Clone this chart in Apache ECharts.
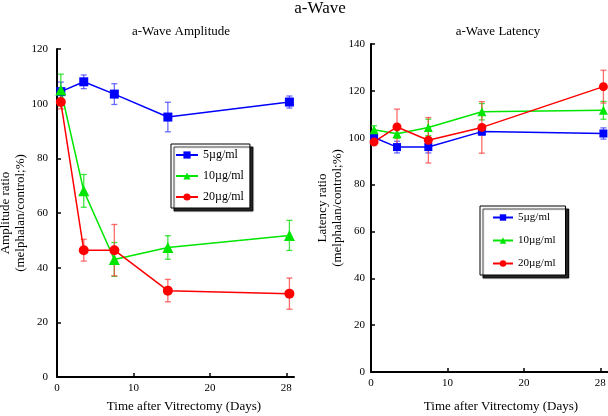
<!DOCTYPE html>
<html><head><meta charset="utf-8">
<script src="https://cdn.jsdelivr.net/npm/echarts@6/dist/echarts.min.js"></script>
<style>html,body{margin:0;padding:0;background:#fff}#c{width:608px;height:416px}</style>
</head><body><div id="c"></div>
<script>
// Days after vitrectomy (labels) and their plotted positions on the drawn axis (28 d drawn at the "28" tick)
const dayLabels = [0, 3, 7, 14, 28];
const dayPosAmp = [0.5, 3.5, 7.5, 14.5, 30.4];
const dayPosLat = [0.4, 3.4, 7.5, 14.5, 30.4];
const xTickValues = [0, 10, 20, 30];
const xTickLabels = ['0', '10', '20', '28'];
const seriesNames = ['5\u00b5g/ml', '10\u00b5g/ml', '20\u00b5g/ml'];

// a-Wave amplitude ratio (%) and error
const amp5 = [104.4, 108.0, 103.5, 95.1, 100.6];
const amp5Err = [3.5, 2.5, 3.8, 5.4, 2.2];
const amp10 = [105.0, 68.1, 43.0, 47.4, 51.8];
const amp10Err = [5.8, 6.0, 6.2, 4.3, 5.5];
const amp20 = [100.6, 46.4, 46.4, 31.6, 30.5];
const amp20Err = [2.5, 4.0, 9.4, 4.1, 5.7];

// a-Wave latency ratio (%) and error
const lat5 = [100.1, 96.0, 96.0, 102.6, 101.8];
const lat5Err = [2.0, 2.5, 2.5, 1.5, 2.4];
const lat10 = [103.4, 101.7, 104.4, 111.1, 111.7];
const lat10Err = [1.7, 2.0, 3.5, 3.5, 3.8];
const lat20 = [98.2, 104.6, 98.9, 104.4, 121.8];
const lat20Err = [1.5, 7.6, 9.7, 11.0, 7.0];

const colors = ['#0000ff', '#00e600', '#ff0000'];
const errColors = ['rgba(60,60,255,0.75)', 'rgba(0,220,0,0.75)', 'rgba(255,60,60,0.75)'];
const symbols = ['rect', 'triangle', 'circle'];
const FONT = '"Liberation Serif", "DejaVu Serif", serif';

function errData(pos, v, e) { return pos.map((x, i) => [x, v[i] - e[i], v[i] + e[i]]); }
function lineData(pos, v) { return pos.map((x, i) => [x, v[i]]); }

function errSeries(data, idx, axis, color) {
  return {
    type: 'custom', xAxisIndex: axis, yAxisIndex: axis, silent: true, z: 1,
    data: data,
    renderItem: function (params, api) {
      const lo = api.coord([api.value(0), api.value(1)]);
      const hi = api.coord([api.value(0), api.value(2)]);
      const w = 3;
      const st = { stroke: color, lineWidth: 1.3 };
      return { type: 'group', children: [
        { type: 'line', shape: { x1: lo[0], y1: lo[1], x2: hi[0], y2: hi[1] }, style: st },
        { type: 'line', shape: { x1: lo[0] - w, y1: lo[1], x2: lo[0] + w, y2: lo[1] }, style: st },
        { type: 'line', shape: { x1: hi[0] - w, y1: hi[1], x2: hi[0] + w, y2: hi[1] }, style: st }
      ]};
    }
  };
}
function lineSeries(name, data, idx, axis, sizes) {
  return {
    name: name, type: 'line', xAxisIndex: axis, yAxisIndex: axis, z: 3,
    data: data, symbol: symbols[idx], symbolSize: sizes[idx],
    lineStyle: { color: colors[idx], width: 1.5 },
    itemStyle: { color: colors[idx] },
    emphasis: { disabled: true }, animation: false
  };
}

const ampSets = [[amp5, amp5Err], [amp10, amp10Err], [amp20, amp20Err]];
const latSets = [[lat5, lat5Err], [lat10, lat10Err], [lat20, lat20Err]];
const series = [];
ampSets.forEach((s, i) => series.push(errSeries(errData(dayPosAmp, s[0], s[1]), i, 0, errColors[i])));
latSets.forEach((s, i) => series.push(errSeries(errData(dayPosLat, s[0], s[1]), i, 1, errColors[i])));
ampSets.forEach((s, i) => series.push(lineSeries(seriesNames[i], lineData(dayPosAmp, s[0]), i, 0, [9, 11, 10])));
latSets.forEach((s, i) => series.push(lineSeries(seriesNames[i], lineData(dayPosLat, s[0]), i, 1, [8, 9, 9])));

function xAxis(grid) {
  return {
    type: 'value', gridIndex: grid, min: 0, max: 31,
    axisLine: { show: true, lineStyle: { color: '#000', width: 2 } },
    axisTick: { show: true, inside: true, length: 4, customValues: xTickValues, lineStyle: { color: '#000', width: 1.5 } },
    axisLabel: { customValues: xTickValues, margin: 6, color: '#000', fontFamily: FONT, fontSize: 11,
      formatter: v => xTickLabels[xTickValues.indexOf(v)] },
    splitLine: { show: false }
  };
}
function yAxis(grid, max, name, gap, margin) {
  return {
    type: 'value', gridIndex: grid, min: 0, max: max, interval: 20,
    name: name, nameLocation: 'middle', nameRotate: 90, nameGap: gap,
    nameTextStyle: { color: '#000', fontFamily: FONT, fontSize: 13, lineHeight: 15 },
    axisLine: { show: true, lineStyle: { color: '#000', width: 2 } },
    axisTick: { show: true, inside: true, length: 4, lineStyle: { color: '#000', width: 1.5 } },
    axisLabel: { margin: margin, color: '#000', fontFamily: FONT, fontSize: 11 },
    splitLine: { show: false }
  };
}
function legend(opt) {
  return Object.assign({
    orient: 'vertical', data: seriesNames, selectedMode: false,
    backgroundColor: '#fff', borderColor: '#000', borderWidth: 1,
    shadowColor: 'rgba(0,0,0,0.85)', shadowBlur: 1, shadowOffsetX: 3, shadowOffsetY: 3,
    textStyle: { color: '#000', fontFamily: FONT }
  }, opt);
}

const chart = echarts.init(document.getElementById('c'), null, { renderer: 'canvas' });
chart.setOption({
  animation: false,
  backgroundColor: '#fff',
  textStyle: { fontFamily: FONT },
  grid: [
    { left: 57, top: 49, width: 237, height: 328, containLabel: false, outerBoundsMode: 'none' },
    { left: 371, top: 44, width: 237, height: 328, containLabel: false, outerBoundsMode: 'none' }
  ],
  xAxis: [xAxis(0), xAxis(1)],
  yAxis: [yAxis(0, 120, 'Amplitude ratio\n(melphalan/control;%)', 22, 9),
          yAxis(1, 140, 'Latency ratio\n(melphalan/control;%)', 19, 6)],
  legend: [
    legend({ left: 171, top: 144, itemWidth: 22, itemHeight: 9, itemGap: 9, padding: [5, 6, 5, 4],
      textStyle: { color: '#000', fontFamily: FONT, fontSize: 12 } }),
    legend({ left: 480, top: 206, itemWidth: 20, itemHeight: 8, itemGap: 12, padding: [6, 10, 6, 12],
      textStyle: { color: '#000', fontFamily: FONT, fontSize: 11 } })
  ],
  graphic: [
    { type: 'text', x: 320, y: 17, style: { text: 'a-Wave', fill: '#000', font: '17px ' + FONT, textAlign: 'center', textVerticalAlign: 'bottom' } },
    { type: 'text', x: 181, y: 32, style: { text: 'a-Wave Amplitude', fill: '#000', font: '13px ' + FONT, textAlign: 'center', textVerticalAlign: 'middle' } },
    { type: 'text', x: 498, y: 32, style: { text: 'a-Wave Latency', fill: '#000', font: '13px ' + FONT, textAlign: 'center', textVerticalAlign: 'middle' } },
    { type: 'text', x: 184, y: 407, style: { text: 'Time after Vitrectomy (Days)', fill: '#000', font: '13px ' + FONT, textAlign: 'center', textVerticalAlign: 'middle' } },
    { type: 'text', x: 501, y: 407, style: { text: 'Time after Vitrectomy (Days)', fill: '#000', font: '13px ' + FONT, textAlign: 'center', textVerticalAlign: 'middle' } }
  ],
  series: series
});
</script></body></html>
